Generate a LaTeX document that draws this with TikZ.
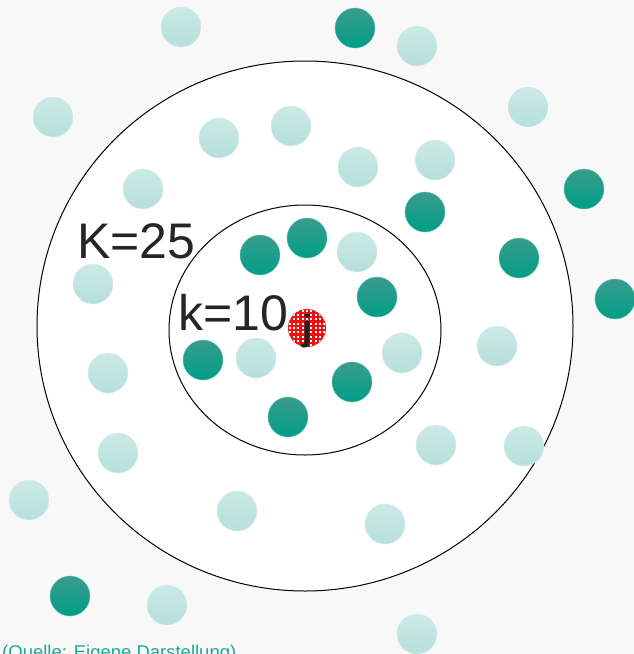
\documentclass[tikz,border=0pt]{standalone}
\usepackage{fontspec}
\setmainfont{Liberation Sans}
\usetikzlibrary{calc}
\definecolor{bgc}{HTML}{F8F8F8}
\definecolor{dtop}{HTML}{3A9C8D}
\definecolor{dbot}{HTML}{009E87}
\definecolor{ltop}{HTML}{CBEAE7}
\definecolor{lbot}{HTML}{B6DFDB}
\definecolor{txt}{HTML}{262626}
\definecolor{src}{HTML}{1FA891}
\definecolor{redd}{HTML}{F01010}
\begin{document}
\begin{tikzpicture}[x=1pt,y=-1pt,
  darkdot/.style={circle,minimum size=40pt,inner sep=0pt,top color=dtop,bottom color=dbot,draw=dbot!60!white,line width=0.4pt},
  lightdot/.style={circle,minimum size=40pt,inner sep=0pt,top color=ltop,bottom color=lbot,draw=lbot!50!white,line width=0.4pt},
  ring/.style={draw=black,line width=1pt,fill=white},
  big/.style={font=\fontsize{50}{50}\selectfont,text=txt,inner sep=0pt,anchor=base west}]
\useasboundingbox (0,0) rectangle (634,654);
\clip (0,0) rectangle (634,654);
\fill[bgc] (0,0) rectangle (634,654);
\draw[ring] (305,326) ellipse [x radius=268, y radius=265];
\draw[ring] (305,330) ellipse [x radius=136, y radius=125];
% light dots
\foreach \n/\x/\y in {l1/181/27, l2/417/46, l3/53/117, l4/528/107, l5/219/138, l6/291/126, l7/358/167, l8/435/160, l9/143/189, l10/357/252, l11/93/284, l12/497/346, l13/402/353, l14/256/358, l15/108/373, l16/436/445, l17/524/446, l18/118/453, l19/29/500, l20/237/511, l21/385/524, l22/167/605, l23/417/634}
  \node[lightdot] (\n) at (\x,\y) {};
% dark dots
\foreach \n/\x/\y in {d1/355/28, d2/584/189, d3/425/212, d4/307/238, d5/260/255, d6/519/258, d7/377/297, d8/615/299, d9/203/360, d10/352/382, d11/288/417, d12/70/596}
  \node[darkdot] (\n) at (\x,\y) {};
% red centre point
\node[circle,minimum size=38pt,inner sep=0pt,fill=redd] (q) at (307,328) {};
\begin{scope}
  \clip (q.center) circle (18.5);
  \foreach \i in {-5,...,5}
    \foreach \k in {-5,...,5}
      \fill[white] ($(q.center)+(\i*4.3-1,\k*4.3-1)$) rectangle +(2,2);
\end{scope}
\node[font=\fontsize{36}{36}\selectfont\bfseries,text=txt!85!black,inner sep=0pt,anchor=base] (j) at (307,340) {j};
\node[big] (K) at (77,258) {K=25};
\node[big] (k) at (178,330) {k=10};
\node[font=\fontsize{18.5}{18.5}\selectfont,text=src,inner sep=0pt,anchor=base west] (s) at (2,658) {(Quelle: Eigene Darstellung)};
\end{tikzpicture}
\end{document}
